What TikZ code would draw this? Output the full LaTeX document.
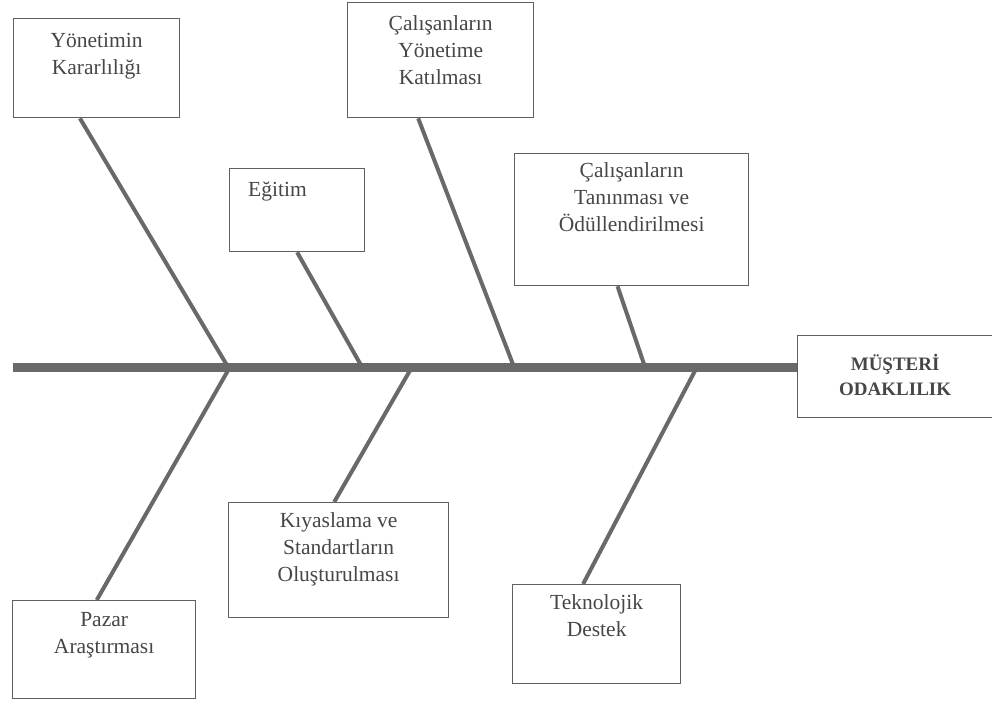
\documentclass[tikz,border=0pt]{standalone}
\usepackage{fontspec}
\setmainfont{Liberation Serif}
\usetikzlibrary{calc}
\definecolor{ink}{RGB}{70,70,70}
\definecolor{bone}{RGB}{105,105,105}
\definecolor{frame}{RGB}{95,95,95}
\tikzset{
  causebox/.style={draw=frame, line width=1.3pt, rectangle, inner sep=0pt, anchor=north west},
  causetext/.style={text=ink, font=\fontsize{21.5}{27}\selectfont, align=center, inner sep=0pt, anchor=north},
  spine/.style={draw=bone, line width=9pt},
  rib/.style={draw=bone, line width=4pt},
}
\begin{document}
\begin{tikzpicture}[x=1pt, y=-1pt]
\useasboundingbox (0,0) rectangle (992,719);

% main spine and effect box
\node[causebox, minimum width=195pt, minimum height=82pt] (eff) at (797,335) {};
\node[text=ink, font=\bfseries\fontsize{19}{25}\selectfont, align=center, inner sep=0pt] (efft) at ($(eff.center)+(0,-2)$) {MÜŞTERİ\\ODAKLILIK};
\coordinate (tail) at (13,367);
\draw[spine] (tail) -- (tail -| eff.west);

% spine junctions
\coordinate (j1) at (228,367);
\coordinate (j2) at (362,367);
\coordinate (j3) at (514,367);
\coordinate (j4) at (645,367);
\coordinate (j5) at (230,367);
\coordinate (j6) at (412,367);
\coordinate (j7) at (697,367);

% upper causes
\node[causebox, minimum width=166pt, minimum height=99pt] (b1) at (13,18) {};
\node[causetext] (b1t) at ($(b1.north)+(0,15)$) {Yönetimin\\Kararlılığı};

\node[causebox, minimum width=135pt, minimum height=83pt] (b2) at (229,168) {};
\node[causetext, anchor=north west] (b2t) at ($(b2.north west)+(19,14)$) {Eğitim};

\node[causebox, minimum width=186pt, minimum height=115pt] (b3) at (347,2) {};
\node[causetext] (b3t) at ($(b3.north)+(0,13)$) {Çalışanların\\Yönetime\\Katılması};

\node[causebox, minimum width=234pt, minimum height=132pt] (b4) at (514,153) {};
\node[causetext] (b4t) at ($(b4.north)+(0,9)$) {Çalışanların\\Tanınması ve\\Ödüllendirilmesi};

% lower causes
\node[causebox, minimum width=183pt, minimum height=98pt] (p) at (12,600) {};
\node[causetext] (pt) at ($(p.north)+(0,12)$) {Pazar\\Araştırması};

\node[causebox, minimum width=220pt, minimum height=115pt] (k) at (228,502) {};
\node[causetext] (kt) at ($(k.north)+(0,10)$) {Kıyaslama ve\\Standartların\\Oluşturulması};

\node[causebox, minimum width=168pt, minimum height=99pt] (t) at (512,584) {};
\node[causetext] (tt) at ($(t.north)+(0,10)$) {Teknolojik\\Destek};

% ribs
\draw[rib] ($(b1.south west)!0.40!(b1.south east)$) -- (j1);
\draw[rib] ($(b2.south west)!0.50!(b2.south east)$) -- (j2);
\draw[rib] ($(b3.south west)!0.38!(b3.south east)$) -- (j3);
\draw[rib] ($(b4.south west)!0.44!(b4.south east)$) -- (j4);
\draw[rib] (j5) -- ($(p.north west)!0.46!(p.north east)$);
\draw[rib] (j6) -- ($(k.north west)!0.48!(k.north east)$);
\draw[rib] (j7) -- ($(t.north west)!0.42!(t.north east)$);
\end{tikzpicture}
\end{document}
